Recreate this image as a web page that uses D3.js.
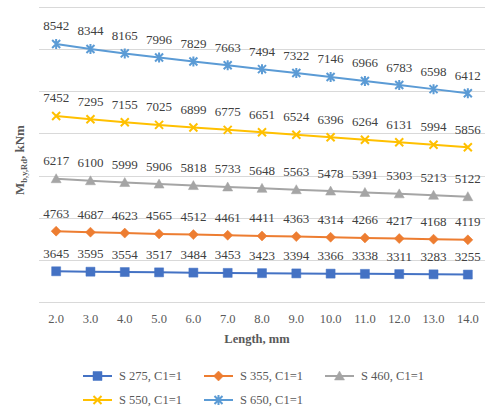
<!DOCTYPE html>
<html>
<head>
<meta charset="utf-8">
<script src="https://cdn.jsdelivr.net/npm/d3@7"></script>
<style>
	body { margin: 0; background: #fff; }
	svg text { font-family: "Liberation Serif", "Times New Roman", serif; }
</style>
</head>
<body>
<svg id="chart" width="485" height="409"></svg>
<script>
var lengths = ['2.0','3.0','4.0','5.0','6.0','7.0','8.0','9.0','10.0','11.0','12.0','13.0','14.0'];
var s275 = [3645,3595,3554,3517,3484,3453,3423,3394,3366,3338,3311,3283,3255];
var s355 = [4763,4687,4623,4565,4512,4461,4411,4363,4314,4266,4217,4168,4119];
var s460 = [6217,6100,5999,5906,5818,5733,5648,5563,5478,5391,5303,5213,5122];
var s550 = [7452,7295,7155,7025,6899,6775,6651,6524,6396,6264,6131,5994,5856];
var s650 = [8542,8344,8165,7996,7829,7663,7494,7322,7146,6966,6783,6598,6412];
var seriesNames = ['S 275, C1=1','S 355, C1=1','S 460, C1=1','S 550, C1=1','S 650, C1=1'];
var gridTicks = [0,5000,10000,15000,20000,25000,30000,35000];

var colors = ['#4472c4','#ed7d31','#a5a5a5','#ffc000','#5b9bd5'];
var markers = ['square','diamond','triangle','x','star'];

var allSeries = [s275, s355, s460, s550, s650];

// table for d3.stack (the source is an excel stacked line chart)
var table = lengths.map(function(l, i){
	var row = {len : l};
	allSeries.forEach(function(s, k){ row['k' + k] = s[i]; });
	return row;
});
var keys = allSeries.map(function(s, k){ return 'k' + k; });
var stacked = d3.stack().keys(keys)(table);

var margin = {left : 39, right : 0, top : 7, bottom : 107};
var svg = d3.select('#chart'),
	width = 485 - margin.left - margin.right,
	height = 409 - margin.top - margin.bottom;

var x = d3.scaleBand()
	.domain(lengths)
	.range([0, width]);

var y = d3.scaleLinear()
	.domain([0, 35000])
	.range([height, 0]);

var g = svg.append('g')
	.attr('transform', `translate(${margin.left},${margin.top})`);

//gridlines
g.append('g')
	.selectAll('line')
	.data(gridTicks)
	.enter()
	.append('line')
	.attr('x1', 0)
	.attr('x2', width)
	.attr('y1', (d)=>Math.round(y(d)) + 0.5)
	.attr('y2', (d)=>Math.round(y(d)) + 0.5)
	.attr('stroke', '#d9d9d9')
	.attr('stroke-width', 1);

//x axis
var xAxis = g.append('g')
	.attr('transform', `translate(0,${height})`)
	.call(d3.axisBottom(x).tickSize(0).tickPadding(12));
xAxis.select('.domain').remove();
xAxis.attr('font-family', null);
xAxis.selectAll('text')
	.style('font-size', '12.5px')
	.attr('fill', '#595959');

function cx(i){ return x(lengths[i]) + x.bandwidth() / 2; }

var line = d3.line()
	.x(function(d, i){ return cx(i); })
	.y(function(d){ return y(d[1]); });

function markerPath(type){
	switch(type){
		case 'square' : return 'M-4.5,-4.5H4.5V4.5H-4.5Z';
		case 'diamond' : return 'M0,-5L5,0L0,5L-5,0Z';
		case 'triangle' : return 'M0,-5L5,4H-5Z';
		case 'x' : return 'M-4,-4L4,4M-4,4L4,-4';
		default : return 'M-4,-4L4,4M-4,4L4,-4M0,-5V5';
	}
}

stacked.forEach(function(layer, k){
	var sg = g.append('g').attr('class', 'series');

	sg.append('path')
		.datum(layer)
		.attr('d', line)
		.attr('fill', 'none')
		.attr('stroke', colors[k])
		.attr('stroke-width', 2);

	var filled = markers[k] !== 'x' && markers[k] !== 'star';
	sg.selectAll('path.mk')
		.data(layer)
		.enter()
		.append('path')
		.attr('class', 'mk')
		.attr('d', markerPath(markers[k]))
		.attr('transform', (d, i)=>`translate(${cx(i)},${y(d[1])})`)
		.attr('fill', filled ? colors[k] : 'none')
		.attr('stroke', colors[k])
		.attr('stroke-width', filled ? 0.5 : 2);

	//value labels
	sg.selectAll('text')
		.data(layer)
		.enter()
		.append('text')
		.attr('x', (d, i)=>cx(i))
		.attr('y', (d)=>y(d[1]) - 13.5)
		.attr('text-anchor', 'middle')
		.attr('fill', '#404040')
		.style('font-size', '13px')
		.text((d)=>d.data[keys[k]]);
});

//axis titles
svg.append('text')
	.attr('x', margin.left + width / 2 - 5)
	.attr('y', 343)
	.attr('text-anchor', 'middle')
	.attr('fill', '#595959')
	.style('font-size', '12.5px')
	.style('font-weight', 'bold')
	.text('Length, mm');

var yt = svg.append('text')
	.attr('transform', 'translate(24,160) rotate(-90)')
	.attr('text-anchor', 'middle')
	.attr('fill', '#595959')
	.style('font-size', '13px')
	.style('font-weight', 'bold');
yt.append('tspan').text('M');
yt.append('tspan').attr('dy', 3).style('font-size', '8.5px').text('b,y,Rd');
yt.append('tspan').attr('dy', -3).text(', kNm');

//legend
var legendPos = [[83,376],[204,376],[325,376],[83,400],[204,400]];
var legend = svg.append('g')
	.selectAll('g')
	.data(seriesNames)
	.enter()
	.append('g')
	.attr('transform', (d, i)=>`translate(${legendPos[i][0]},${legendPos[i][1]})`);

legend.append('line')
	.attr('x1', 0)
	.attr('x2', 29)
	.attr('stroke', (d, i)=>colors[i])
	.attr('stroke-width', 2);

legend.append('path')
	.attr('d', (d, i)=>markerPath(markers[i]))
	.attr('transform', 'translate(14.5,0)')
	.attr('fill', (d, i)=>(i < 3 ? colors[i] : 'none'))
	.attr('stroke', (d, i)=>colors[i])
	.attr('stroke-width', (d, i)=>(i < 3 ? 0.5 : 2));

legend.append('text')
	.attr('x', 36)
	.attr('dy', '0.35em')
	.attr('fill', '#595959')
	.style('font-size', '12.5px')
	.text((d)=>d);
</script>
</body>
</html>
